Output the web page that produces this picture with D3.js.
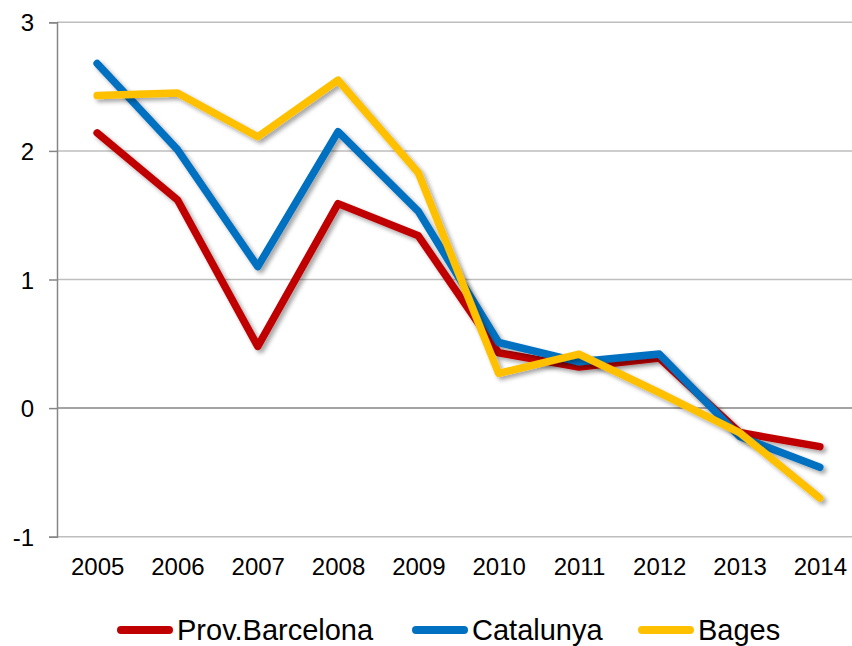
<!DOCTYPE html>
<html><head><meta charset="utf-8">
<script src="https://cdn.jsdelivr.net/npm/d3@7"></script>
<style>
html,body{margin:0;padding:0;background:#fff;overflow:hidden;}
text{font-family:"Liberation Sans",Arial,sans-serif;fill:#000;}
</style></head>
<body>
<svg id="chart" width="852" height="646"></svg>
<script>
const years = ["2005","2006","2007","2008","2009","2010","2011","2012","2013","2014"];
const seriesNames = ["Prov.Barcelona","Catalunya","Bages"];
const seriesColors = ["#C00000","#0070C0","#FFC000"];
const barcelona = [2.14, 1.62, 0.48, 1.59, 1.34, 0.43, 0.32, 0.39, -0.19, -0.30];
const catalunya = [2.68, 2.01, 1.10, 2.15, 1.53, 0.51, 0.36, 0.42, -0.22, -0.46];
const bages     = [2.43, 2.45, 2.11, 2.55, 1.83, 0.27, 0.42, 0.12, -0.19, -0.70];
const yTicks = [-1, 0, 1, 2, 3];

const seriesValues = [barcelona, catalunya, bages];
const svg = d3.select("#chart");

const defs = svg.append("defs");
const f = defs.append("filter").attr("id","shadow").attr("x","-10%").attr("y","-10%").attr("width","130%").attr("height","130%");
f.append("feDropShadow").attr("dx",3).attr("dy",3).attr("stdDeviation",2)
 .attr("flood-color","#000").attr("flood-opacity",0.35);

const x = d3.scalePoint().domain(years).range([57, 860]).padding(0.5);
const y = d3.scaleLinear().domain([-1, 3]).range([536.7, 22.3]);

// gridlines
svg.append("g").selectAll("line").data(yTicks).join("line")
  .attr("x1", 57).attr("x2", 860)
  .attr("y1", d => y(d)).attr("y2", d => y(d))
  .attr("stroke", d => d === 0 ? "#868686" : "#BEBEBE")
  .attr("stroke-width", 1.5);

// y axis
const yAxis = d3.axisLeft(y).tickValues(yTicks).tickSize(8).tickFormat(d => String(d));
const gy = svg.append("g").attr("transform","translate(57,0)").call(yAxis);
gy.select(".domain").attr("stroke","#868686").attr("stroke-width",1.5);
gy.selectAll(".tick line").attr("stroke","#868686").attr("stroke-width",1.5);
gy.selectAll(".tick text").attr("x",-23).attr("dy","0.36em")
  .style("font-size","24px").style("font-family","'Liberation Sans',Arial,sans-serif").attr("fill","#000");

// x labels
const xAxis = d3.axisBottom(x).tickSize(0).tickPadding(0);
const gx = svg.append("g").attr("transform","translate(0,557)").call(xAxis);
gx.select(".domain").remove();
gx.selectAll(".tick text").attr("y",0).attr("dy","0.74em")
  .style("font-size","24px").style("font-family","'Liberation Sans',Arial,sans-serif").attr("fill","#000");

// lines
const line = d3.line().x((d,i) => x(years[i])).y(d => y(d));
svg.append("g").selectAll("path").data(seriesValues).join("path")
  .attr("d", d => line(d))
  .attr("fill","none")
  .attr("stroke", (d,i) => seriesColors[i])
  .attr("stroke-width", 7.5)
  .attr("stroke-linejoin","round")
  .attr("stroke-linecap","round")
  .attr("filter","url(#shadow)");

// legend
const legendX = [121, 416, 642];
const lg = svg.append("g");
seriesNames.forEach((name, i) => {
  lg.append("line").attr("x1", legendX[i]).attr("x2", legendX[i] + 48)
    .attr("y1", 630).attr("y2", 630)
    .attr("stroke", seriesColors[i]).attr("stroke-width", 8).attr("stroke-linecap","round");
  lg.append("text").attr("x", legendX[i] + 56).attr("y", 640)
    .style("font-size","29px").text(name);
});
</script>
</body></html>
